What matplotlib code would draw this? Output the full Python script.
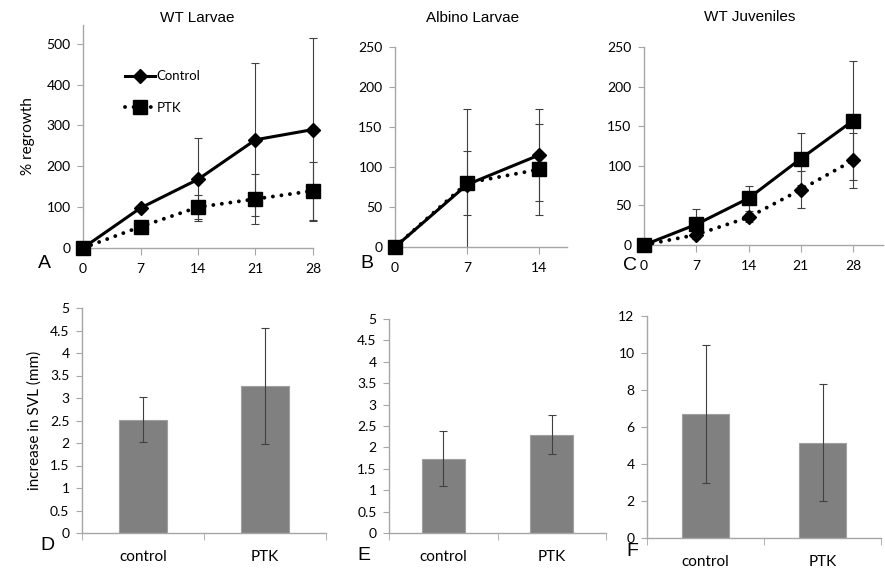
import numpy as np
import matplotlib
matplotlib.use("Agg")
import matplotlib.pyplot as plt

W, H = 885, 572
plt.rcParams['font.family'] = ['Lato', 'DejaVu Sans']

# panel A - WT larvae
days_a = [0, 7, 14, 21, 28]
ctrl_a = [0, 98, 168, 265, 290]
ctrl_a_err = [0, 0, 102, 187, 225]
ptk_a = [0, 52, 100, 120, 140]
ptk_a_err = [0, 0, 30, 62, 71]

# panel B - albino larvae
days_b = [0, 7, 14]
ctrl_b = [0, 78, 115]
ctrl_b_err = [0, 94, 57]
ptk_b = [0, 80, 97]
ptk_b_err = [0, 40, 57]

# panel C - WT juveniles
days_c = [0, 7, 14, 21, 28]
ctrl_c = [0, 26, 59, 109, 157]
ctrl_c_err = [0, 19, 16, 33, 75]
ptk_c = [0, 13, 35, 70, 107]
ptk_c_err = [0, 4, 6, 23, 35]

# panels D-F - increase in SVL
groups = ['control', 'PTK']
svl_d = [2.52, 3.27]
svl_d_err = [0.50, 1.29]
svl_e = [1.74, 2.30]
svl_e_err = [0.64, 0.46]
svl_f = [6.70, 5.15]
svl_f_err = [3.73, 3.15]

titles = ['WT Larvae', 'Albino Larvae', 'WT Juveniles']

AXC = '#a6a6a6'
ERRC = '#404040'

fig = plt.figure(figsize=(W / 100, H / 100), dpi=100)


def px_axes(left, top, right, bottom):
    return fig.add_axes([left / W, 1 - bottom / H, (right - left) / W, (bottom - top) / H])


def style(ax):
    for s in ['top', 'right']:
        ax.spines[s].set_visible(False)
    for s in ['left', 'bottom']:
        ax.spines[s].set_color(AXC)
        ax.spines[s].set_linewidth(1)
    ax.tick_params(axis='y', direction='out', length=4, color=AXC, labelsize=10, pad=5)
    ax.tick_params(axis='x', direction='out', length=5, color=AXC, labelsize=10, pad=6)


def line_panel(ax, x, c, ce, p, pe, cmark, pmark, csize, psize, clip=True):
    for v, e in [(c, ce), (p, pe)]:
        eb = ax.errorbar(x, v, yerr=e, fmt='none', ecolor=ERRC, elinewidth=0.8,
                         capsize=3, capthick=0.8)
        if not clip:
            for art in eb.lines[1] + eb.lines[2]:
                art.set_clip_on(False)
    ax.plot(x, p, color='black', lw=2.8, linestyle=(0, (0.01, 2.2)), dash_capstyle='round',
            marker=pmark, markersize=psize, clip_on=False, zorder=3, label='PTK')
    ax.plot(x, c, color='black', lw=2.2, marker=cmark, markersize=csize,
            clip_on=False, zorder=4, label='Control')


# A
axA = px_axes(83, 25, 313, 248)
line_panel(axA, days_a, ctrl_a, ctrl_a_err, ptk_a, ptk_a_err, 'D', 's', 7.5, 9.5, clip=False)
axA.set_xlim(0, 28)
axA.set_ylim(0, 546)
axA.set_yticks(range(0, 501, 100))
axA.set_xticks(days_a)
axA.set_ylabel('% regrowth', fontsize=11, labelpad=8)
style(axA)
h, l = axA.get_legend_handles_labels()
axA.legend(h[::-1], l[::-1], loc='upper left', bbox_to_anchor=(0.16, 0.82), frameon=False,
           handlelength=2.3, handletextpad=0.1, labelspacing=1.45, fontsize=9.5,
           borderaxespad=0)

# B
axB = px_axes(395, 47, 567, 247)
line_panel(axB, days_b, ctrl_b, ctrl_b_err, ptk_b, ptk_b_err, 'D', 's', 7.5, 9.5)
axB.set_xlim(0, 16.7)
axB.set_ylim(0, 250)
axB.set_yticks(range(0, 251, 50))
axB.set_xticks(days_b)
style(axB)

# C
axC = px_axes(644, 47, 883, 245)
line_panel(axC, days_c, ctrl_c, ctrl_c_err, ptk_c, ptk_c_err, 's', 'D', 9.5, 7.5)
axC.set_xlim(0, 32)
axC.set_ylim(0, 250)
axC.set_yticks(range(0, 251, 50))
axC.set_xticks(days_c)
style(axC)

for t, x, y in zip(titles, [197, 473, 750], [18, 18, 17]):
    fig.text(x / W, 1 - y / H, t, fontsize=11, family='Liberation Sans',
             ha='center', va='center')


def bar_panel(ax, vals, errs, ymax, step):
    x = np.arange(len(groups))
    ax.bar(x, vals, width=0.4, color='#808080', edgecolor='#a0a0a0', linewidth=0.8, zorder=2)
    ax.errorbar(x, vals, yerr=errs, fmt='none', ecolor=ERRC, elinewidth=0.8, capsize=3,
                capthick=0.8, zorder=3)
    ax.set_xlim(-0.5, len(groups) - 0.5)
    ax.set_ylim(0, ymax)
    ticks = np.arange(0, ymax + step / 2, step)
    ax.set_yticks(ticks)
    ax.set_yticklabels(['%g' % t for t in ticks])
    ax.set_xticks(x)
    ax.set_xticklabels(groups)
    ax.set_xticks(np.arange(-0.5, len(groups), 1.0), minor=True)
    style(ax)
    ax.tick_params(axis='x', which='major', length=0, labelsize=11, pad=12)
    ax.tick_params(axis='x', which='minor', length=5, color=AXC)


axD = px_axes(82, 308, 326, 533)
bar_panel(axD, svl_d, svl_d_err, 5, 0.5)
axD.set_ylabel('increase in SVL (mm)', fontsize=11, labelpad=6)

axE = px_axes(389, 319, 606, 533)
bar_panel(axE, svl_e, svl_e_err, 5, 0.5)

axF = px_axes(647, 316, 881, 538)
bar_panel(axF, svl_f, svl_f_err, 12, 2)

# panel letters
for letter, x, y in [('A', 44, 264), ('B', 367, 264), ('C', 630, 266),
                     ('D', 47, 545), ('E', 364, 555), ('F', 632, 552)]:
    fig.text(x / W, 1 - y / H, letter, fontsize=14, family='Liberation Sans',
             ha='center', va='center')

fig.savefig('out.png', dpi=100)
